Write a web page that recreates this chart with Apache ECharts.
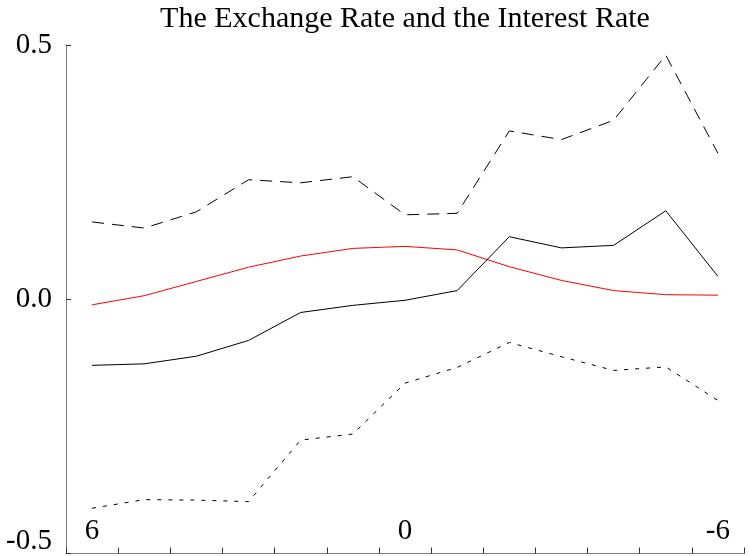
<!DOCTYPE html>
<html>
<head>
<meta charset="utf-8">
<script src="https://cdn.jsdelivr.net/npm/echarts@6/dist/echarts.min.js"></script>
<style>
  html, body { margin: 0; padding: 0; background: #fff; }
  #chart { width: 749px; height: 556px; }
</style>
</head>
<body>
<div id="chart"></div>
<script>
// Horizon labels, from lead 6 down to lag -6
const horizons = ['6', '5', '4', '3', '2', '1', '0', '-1', '-2', '-3', '-4', '-5', '-6'];

// Exchange-rate response (solid black)
const exchangeRate = [-0.130, -0.127, -0.112, -0.081, -0.026, -0.012, -0.002, 0.017, 0.123, 0.101, 0.106, 0.174, 0.045];
// Upper confidence band (dashed)
const upperBand = [0.152, 0.140, 0.172, 0.235, 0.229, 0.241, 0.166, 0.169, 0.331, 0.314, 0.352, 0.480, 0.287];
// Lower confidence band (dotted)
const lowerBand = [-0.411, -0.394, -0.395, -0.398, -0.277, -0.265, -0.165, -0.134, -0.085, -0.113, -0.140, -0.133, -0.199];
// Interest-rate path (red)
const interestRate = [-0.011, 0.007, 0.035, 0.063, 0.085, 0.100, 0.104, 0.097, 0.064, 0.037, 0.017, 0.009, 0.008];

// Value-axis ticks
const yTicks = { min: -0.5, max: 0.5, step: 0.5 };

const serif = '"Liberation Serif", "DejaVu Serif", serif';
const axisGrey = '#7f7f7f';

const chart = echarts.init(document.getElementById('chart'), null, { renderer: 'canvas' });

function lineSeries(name, data, color, type) {
  return {
    name: name,
    type: 'line',
    data: data,
    symbol: 'none',
    silent: true,
    animation: false,
    lineStyle: { color: color, width: 1, type: type }
  };
}

chart.setOption({
  animation: false,
  backgroundColor: '#ffffff',
  title: {
    text: 'The Exchange Rate and the Interest Rate',
    left: 405,
    top: 4,
    textAlign: 'center',
    padding: 0,
    textStyle: { fontFamily: serif, fontSize: 30, fontWeight: 'normal', color: '#000' }
  },
  grid: { left: 66, right: 5, top: 45, bottom: 2, containLabel: false },
  xAxis: {
    type: 'category',
    data: horizons,
    boundaryGap: true,
    axisLine: { show: true, onZero: false, lineStyle: { color: axisGrey, width: 1 } },
    axisTick: { show: true, inside: true, length: 6, interval: 0, lineStyle: { color: '#333' } },
    axisLabel: {
      inside: true,
      interval: 5,
      margin: 8,
      fontFamily: serif,
      fontSize: 29,
      color: '#000'
    },
    splitLine: { show: false }
  },
  yAxis: {
    type: 'value',
    min: yTicks.min,
    max: yTicks.max,
    interval: yTicks.step,
    axisLine: { show: true, lineStyle: { color: axisGrey, width: 1 } },
    axisTick: { show: true, inside: true, length: 5, lineStyle: { color: '#333' } },
    axisLabel: {
      margin: 14,
      fontFamily: serif,
      fontSize: 29,
      color: '#000',
      formatter: function (v) {
        const s = v.toFixed(1);
        return v === yTicks.min ? '{low|' + s + '}' : s;
      },
      rich: {
        low: { fontFamily: serif, fontSize: 29, color: '#000', padding: [0, 0, 24, 0] }
      }
    },
    splitLine: { show: false }
  },
  series: [
    lineSeries('Upper band', upperBand, '#000', [12, 8]),
    lineSeries('Lower band', lowerBand, '#000', [4, 7]),
    lineSeries('Interest rate', interestRate, '#ff0000', 'solid'),
    lineSeries('Exchange rate', exchangeRate, '#000', 'solid')
  ]
});
</script>
</body>
</html>
